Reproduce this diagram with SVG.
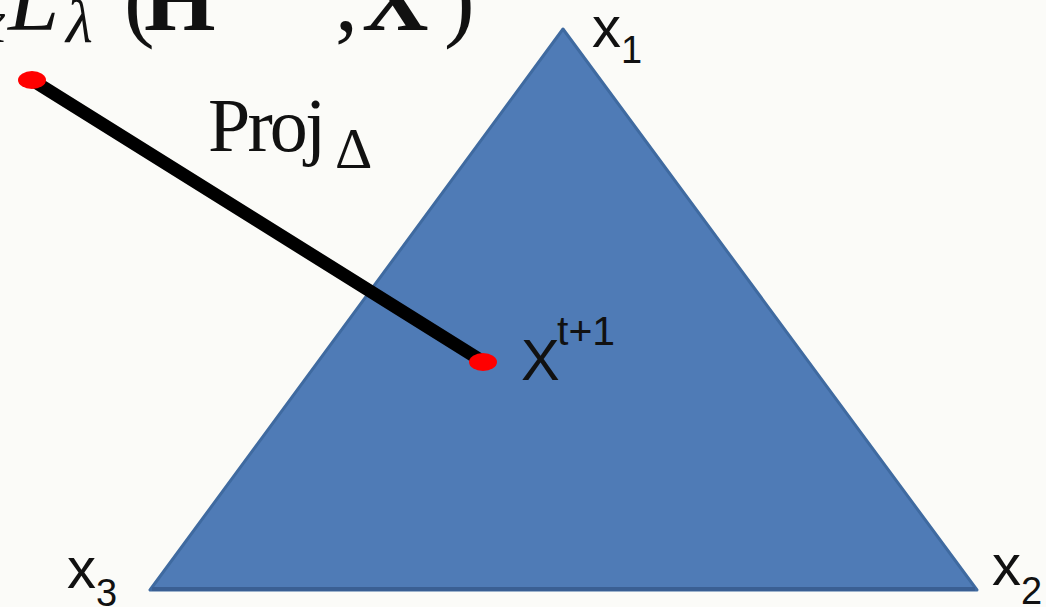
<svg xmlns="http://www.w3.org/2000/svg" width="1046" height="607" viewBox="0 0 1046 607">
<style>
.serif{font-family:"Liberation Serif","Times New Roman",serif;fill:#111}
.sans{font-family:"Liberation Sans",Arial,sans-serif;fill:#111}
.dot{fill:#f00}
</style>
<rect width="1046" height="607" fill="#fbfbf8"/>
<g id="simplex">
<polygon points="563,29 150,590 977,590" fill="#4f7bb6" stroke="#3f6aa0" stroke-width="3" stroke-linejoin="round"/>
<line x1="152" y1="589" x2="975" y2="589" stroke="#3a5f93" stroke-width="4"/>
</g>
<g id="formula">
<text class="serif" y="30" font-size="92"><tspan x="-22" y="42" font-size="62" font-style="italic">x</tspan><tspan x="8" y="30" font-style="italic">L</tspan><tspan x="66" y="42" font-size="62" font-style="italic">λ</tspan><tspan x="124" y="30">(</tspan><tspan x="144" y="30" font-weight="bold">H</tspan><tspan x="335" y="30">,</tspan><tspan x="362" y="30" font-weight="bold">X</tspan><tspan x="444" y="30">)</tspan></text>
</g>
<g id="connectors">
<line x1="32" y1="80" x2="482" y2="361" stroke="#000" stroke-width="13" stroke-linecap="round"/>
</g>
<g id="gradient-point">
<ellipse class="dot" cx="32" cy="80" rx="14" ry="9"/>
</g>
<g id="projected-point">
<ellipse class="dot" cx="483" cy="362" rx="14" ry="9"/>
<text class="sans" x="521" y="380" font-size="58">X<tspan x="557" y="345" font-size="41">t+1</tspan></text>
</g>
<g id="proj-label">
<text class="serif" x="208" y="151" font-size="76" textLength="118" lengthAdjust="spacing">Proj</text>
<text class="serif" x="335" y="168" font-size="58">Δ</text>
</g>
<g id="v1"><text class="sans" x="592" y="47" font-size="58">x<tspan y="63" font-size="38">1</tspan></text></g>
<g id="v2"><text class="sans" x="992" y="585" font-size="58">x<tspan y="604" font-size="38">2</tspan></text></g>
<g id="v3"><text class="sans" x="67" y="588" font-size="58">x<tspan y="606" font-size="38">3</tspan></text></g>
</svg>
